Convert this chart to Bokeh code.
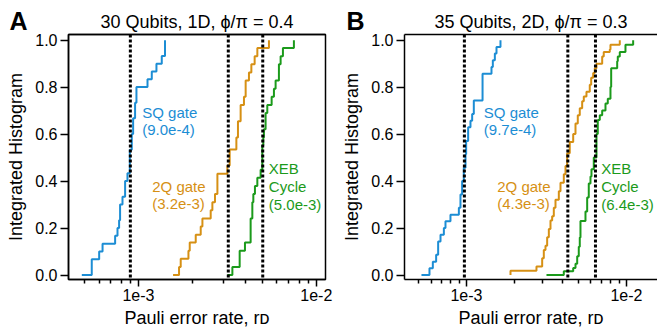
from bokeh.plotting import figure
from bokeh.models import (Span, Label, FixedTicker, CustomJSTickFormatter, LogAxis, Range1d, Title)
from bokeh.layouts import row
from bokeh.embed import file_html
from bokeh.resources import INLINE

FONT = "Liberation Sans"
BLUE = "#1c8dd4"
ORANGE = "#d69014"
GREEN = "#1b9a1b"

# ---------------- data ----------------
# Panel A: 30 qubits, 1D
a_sq_x = [4.80e-4, 5.46e-4, 6.01e-4, 6.28e-4, 7.39e-4, 7.62e-4, 7.78e-4, 7.88e-4, 8.13e-4, 8.41e-4,
          8.67e-4, 8.94e-4, 9.17e-4, 9.33e-4, 9.57e-4, 9.74e-4, 1.124e-3, 1.188e-3, 1.262e-3, 1.352e-3, 1.41e-3]
a_sq_y = [0, 0.067, 0.1, 0.133, 0.167, 0.2, 0.233, 0.3, 0.333, 0.4,
          0.433, 0.533, 0.6, 0.667, 0.733, 0.8, 0.833, 0.867, 0.9, 0.933, 1.0]
a_2q_x = [1.565e-3, 1.691e-3, 1.728e-3, 1.91e-3, 1.942e-3, 2.099e-3, 2.239e-3, 2.289e-3, 2.548e-3, 2.604e-3,
          2.693e-3, 2.779e-3, 3.162e-3, 3.258e-3, 3.553e-3, 3.627e-3, 3.755e-3, 3.92e-3, 4.007e-3, 4.182e-3,
          4.314e-3, 4.502e-3, 4.662e-3, 5.418e-3]
a_2q_y = [0, 0.034, 0.069, 0.103, 0.138, 0.172, 0.207, 0.241, 0.276, 0.310,
          0.345, 0.431, 0.466, 0.534, 0.586, 0.655, 0.724, 0.759, 0.828, 0.862,
          0.897, 0.931, 0.966, 1.0]
a_xeb_x = [3.162e-3, 3.374e-3, 3.708e-3, 3.971e-3, 4.274e-3, 4.369e-3, 4.426e-3, 4.519e-3, 4.661e-3, 4.865e-3,
           4.972e-3, 5.036e-3, 5.076e-3, 5.188e-3, 5.303e-3, 5.61e-3, 5.779e-3, 5.906e-3, 6.165e-3, 6.302e-3,
           6.493e-3, 7.485e-3]
a_xeb_y = [0, 0.034, 0.103, 0.138, 0.241, 0.31, 0.345, 0.379, 0.414, 0.448,
           0.552, 0.586, 0.621, 0.69, 0.724, 0.759, 0.793, 0.828, 0.897, 0.931,
           0.966, 1.0]
a_medians = [9.0e-4, 3.2e-3, 5.0e-3]

# Panel B: 35 qubits, 2D
b_sq_x = [5.23e-4, 5.87e-4, 6.16e-4, 6.46e-4, 6.65e-4, 6.88e-4, 7.22e-4, 7.39e-4, 7.94e-4, 8.96e-4,
          9.17e-4, 9.39e-4, 9.62e-4, 9.86e-4, 9.95e-4, 1.024e-3, 1.059e-3, 1.085e-3, 1.111e-3, 1.26e-3,
          1.433e-3, 1.461e-3, 1.504e-3, 1.54e-3, 1.631e-3]
b_sq_y = [0, 0.029, 0.057, 0.086, 0.143, 0.171, 0.2, 0.229, 0.257, 0.286,
          0.343, 0.4, 0.457, 0.514, 0.571, 0.629, 0.657, 0.686, 0.743, 0.857,
          0.886, 0.914, 0.943, 0.971, 1.0]
b_2q_x = [1.884e-3, 1.884e-3, 2.738e-3, 2.972e-3, 3.043e-3, 3.117e-3, 3.193e-3, 3.271e-3, 3.35e-3, 3.431e-3,
          3.514e-3, 3.6e-3, 3.777e-3, 3.869e-3, 4.058e-3, 4.158e-3, 4.258e-3, 4.42e-3, 4.645e-3, 4.801e-3,
          4.962e-3, 5.106e-3, 5.285e-3, 5.41e-3, 5.623e-3, 5.896e-3, 6.017e-3, 6.193e-3, 6.337e-3, 6.494e-3,
          7.05e-3, 7.21e-3, 7.866e-3, 7.943e-3, 9.082e-3]
b_2q_y = [0, 0.018, 0.036, 0.071, 0.107, 0.125, 0.161, 0.196, 0.232, 0.25,
          0.286, 0.321, 0.357, 0.393, 0.429, 0.464, 0.518, 0.566, 0.6, 0.645,
          0.68, 0.71, 0.74, 0.76, 0.78, 0.81, 0.84, 0.86, 0.88, 0.9,
          0.93, 0.95, 0.96, 0.98, 1.0]
b_xeb_x = [3.162e-3, 4.057e-3, 4.645e-3, 4.801e-3, 4.92e-3, 5.033e-3, 5.106e-3, 5.158e-3, 5.543e-3, 5.68e-3,
           5.812e-3, 5.957e-3, 6.043e-3, 6.247e-3, 6.494e-3, 6.616e-3, 6.81e-3, 7.05e-3, 7.393e-3, 7.641e-3,
           7.943e-3, 8.024e-3, 8.749e-3, 8.825e-3, 9.082e-3, 9.857e-3, 1.101e-2]
b_xeb_y = [0, 0.016, 0.03, 0.048, 0.08, 0.12, 0.16, 0.23, 0.27, 0.33,
           0.39, 0.42, 0.45, 0.5, 0.6, 0.66, 0.68, 0.70, 0.73, 0.75,
           0.8, 0.88, 0.91, 0.93, 0.95, 0.98, 1.0]
b_medians = [9.7e-4, 4.3e-3, 6.4e-3]

series_names = [["SQ gate"], ["2Q gate"], ["XEB", "Cycle"]]
a_value_labels = ["(9.0e-4)", "(3.2e-3)", "(5.0e-3)"]
b_value_labels = ["(9.7e-4)", "(4.3e-3)", "(6.4e-3)"]
colors = [BLUE, ORANGE, GREEN]

x_tick_values = [1e-3, 1e-2]
x_tick_labels = ["1e-3", "1e-2"]
x_minor_ticks = [m * d for d in (1e-4, 1e-3, 1e-2) for m in range(2, 10)]
y_tick_values = [0.0, 0.2, 0.4, 0.6, 0.8, 1.0]
y_tick_labels = ["0.0", "0.2", "0.4", "0.6", "0.8", "1.0"]

titles = ["30 Qubits, 1D, \u03d5/\u03c0 = 0.4", "35 Qubits, 2D, \u03d5/\u03c0 = 0.3"]
letters = ["A", "B"]
x_label = "Pauli error rate, r\u1d05"
y_label = "Integrated Histogram"


def fmt(vals, labs, logscale):
    if logscale:
        code = """
        for (let i = 0; i < vals.length; i++) {
            if (Math.abs(Math.log10(tick) - Math.log10(vals[i])) < 1e-6) return labs[i];
        }
        return '';"""
    else:
        code = """
        for (let i = 0; i < vals.length; i++) {
            if (Math.abs(tick - vals[i]) < 1e-6) return labs[i];
        }
        return '';"""
    return CustomJSTickFormatter(args=dict(vals=vals, labs=labs), code=code)


def make_panel(width, bl, br, xr, title, letter, letter_offset, curves, medians, value_labels, text_pos, boxed):
    p = figure(width=width, height=330, x_axis_type="log",
               x_range=Range1d(*xr), y_range=Range1d(-0.019, 1.024),
               output_backend="svg", toolbar_location=None,
               min_border_left=bl, min_border_right=br, min_border_top=34, min_border_bottom=50)
    p.background_fill_color = "white"
    p.border_fill_color = "white"
    p.xgrid.grid_line_color = None
    p.ygrid.grid_line_color = None
    if boxed:
        p.outline_line_color = "black"
        p.outline_line_width = 1.5
        p.outline_line_alpha = 1.0
    else:
        p.outline_line_color = None

    xa = p.below[0]
    ya = p.left[0]

    for ax in (xa, ya):
        ax.axis_line_width = 1.5
        ax.axis_line_color = "black"
        ax.major_tick_line_width = 1.5
        ax.minor_tick_line_width = 1.5
        ax.major_tick_line_color = "black"
        ax.minor_tick_line_color = "black"
        ax.major_tick_in = 0
        ax.minor_tick_in = 0
        ax.major_label_text_font = FONT
        ax.major_label_text_color = "black"
        ax.axis_label_text_font = FONT
        ax.axis_label_text_font_style = "normal"
        ax.axis_label_text_color = "black"

    xa.ticker = FixedTicker(ticks=x_tick_values, minor_ticks=x_minor_ticks)
    xa.formatter = fmt(x_tick_values, x_tick_labels, True)
    xa.major_tick_out = 7
    xa.minor_tick_out = 4
    xa.major_label_standoff = 2
    xa.major_label_text_font_size = "16px"
    xa.axis_label = x_label
    xa.axis_label_text_font_size = "18px"
    xa.axis_label_standoff = 4

    ya.ticker = FixedTicker(ticks=y_tick_values, minor_ticks=[])
    ya.formatter = fmt(y_tick_values, y_tick_labels, False)
    ya.major_tick_out = 8
    ya.minor_tick_out = 0
    ya.major_label_standoff = 3
    ya.major_label_text_font_size = "16px"
    ya.axis_label = y_label
    ya.axis_label_text_font_size = "18px"
    ya.axis_label_standoff = 6

    # top frame line as an empty axis
    top = LogAxis(ticker=FixedTicker(ticks=[], minor_ticks=[]),
                  major_label_text_font_size="0px", major_tick_out=0, minor_tick_out=0,
                  major_tick_in=0, minor_tick_in=0, axis_line_width=1.5, axis_line_color="black",
                  major_label_standoff=0)
    p.add_layout(top, "above")

    # panel title (row next to the frame)
    p.add_layout(Title(text=title, align="center", standoff=6, text_font=FONT,
                       text_font_size="18px", text_font_style="normal", text_color="black"), "above")
    # panel letter, outermost title row shifted down onto the title's line
    p.title.text = letter
    p.title.align = "left"
    p.title.offset = letter_offset
    p.title.standoff = -56
    p.title.text_font = FONT
    p.title.text_font_size = "25px"
    p.title.text_font_style = "bold"
    p.title.text_color = "black"

    for (cx, cy), c in zip(curves, colors):
        p.step(x=cx, y=cy, mode="after", line_color=c, line_width=2)

    for m in medians:
        p.add_layout(Span(location=m, dimension="height", line_color="black",
                          line_dash="3 2", line_width=3))

    # curve labels (screen px relative to frame bottom-left)
    for names, val, c, (tx, ty) in zip(series_names, value_labels, colors, text_pos):
        lines = names + [val]
        for k, t in enumerate(lines):
            p.add_layout(Label(x=tx, y=ty - 17.8 * k, x_units="screen", y_units="screen", text=t,
                               text_font=FONT, text_font_size="15px", text_color=c,
                               text_baseline="alphabetic", text_align="left"))
    return p


pa = make_panel(334, 68, 9, (4.04e-4, 1.127e-2), titles[0], letters[0], -59,
                [(a_sq_x, a_sq_y), (a_2q_x, a_2q_y), (a_xeb_x, a_xeb_y)], a_medians, a_value_labels,
                [(73.7, 167.5), (83.7, 93.5), (200.3, 111.0)], True)
pb = make_panel(323, 70, 0, (4.097e-4, 1.563e-2), titles[1], letters[1], -58,
                [(b_sq_x, b_sq_y), (b_2q_x, b_2q_y), (b_xeb_x, b_xeb_y)], b_medians, b_value_labels,
                [(79.3, 167.5), (92.7, 93.5), (196.7, 111.0)], False)

layout = row(pa, pb)
open("out.html", "w").write(file_html(layout, INLINE))
